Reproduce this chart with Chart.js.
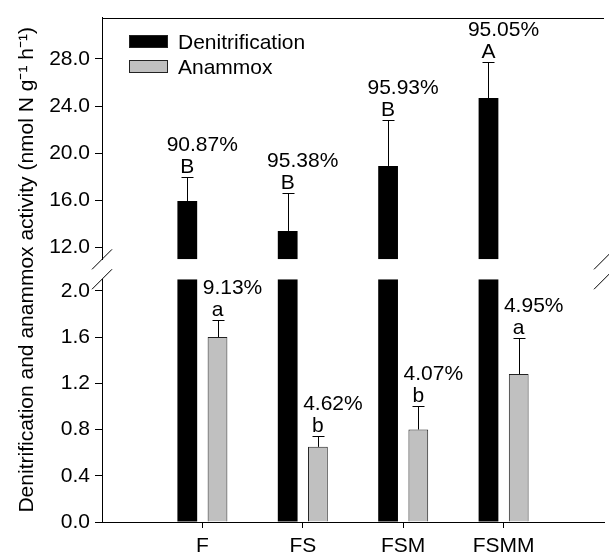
<!DOCTYPE html>
<html>
<head>
<meta charset="utf-8">
<script src="https://cdn.jsdelivr.net/npm/chart.js@4.4.0/dist/chart.umd.min.js"></script>
<style>
  html, body { margin: 0; padding: 0; background: #fff; overflow: hidden; }
  #wrap { width: 609px; height: 553px; overflow: hidden; }
</style>
</head>
<body>
<div id="wrap"><canvas id="chart" width="610" height="553"></canvas></div>
<script>
const categories = ["F", "FS", "FSM", "FSMM"];
const denit_values = [15.95, 13.41, 18.92, 24.68];
const denit_errors = [2.06, 3.22, 3.87, 3.04];
const anammox_values = [1.60, 0.65, 0.80, 1.28];
const anammox_errors = [0.144, 0.098, 0.204, 0.316];
const denit_letters = ["B", "B", "B", "A"];
const anammox_letters = ["a", "b", "b", "a"];
const denit_percent = ["90.87%", "95.38%", "95.93%", "95.05%"];
const anammox_percent = ["9.13%", "4.62%", "4.07%", "4.95%"];
const high_ticks = [12, 16, 20, 24, 28];
const low_ticks = [0, 0.4, 0.8, 1.2, 1.6, 2.0];
const high_range = [11, 31.5];
const low_range = [0, 2.1];

const FONT = '"Liberation Sans", Arial, sans-serif';
Chart.defaults.font.family = FONT;
Chart.defaults.font.size = 21;
Chart.defaults.color = '#000';

// empty slot at each end so the axis sits one category away from F
const x_labels = [""].concat(categories, [""]);
const pad = arr => [null].concat(arr, [null]);

const annotate = {
  id: 'annotate',
  afterDatasetsDraw(chart) {
    const ctx = chart.ctx;
    ctx.save();
    chart.data.datasets.forEach(function(ds, di) {
      if (!ds.errors) return;
      const meta = chart.getDatasetMeta(di);
      const scale = chart.scales[ds.yAxisID];
      meta.data.forEach(function(bar, i) {
        if (ds.data[i] === null) return;
        const x = Math.round(bar.x) + 0.5;
        const yTop = Math.round(scale.getPixelForValue(ds.data[i] + ds.errors[i])) + 0.5;
        ctx.strokeStyle = '#000';
        ctx.lineWidth = 1;
        ctx.beginPath();
        ctx.moveTo(x, bar.y);
        ctx.lineTo(x, yTop);
        ctx.moveTo(x - 6, yTop);
        ctx.lineTo(x + 6, yTop);
        ctx.stroke();
        ctx.fillStyle = '#000';
        ctx.font = '21px ' + FONT;
        ctx.textAlign = 'center';
        ctx.textBaseline = 'alphabetic';
        ctx.fillText(ds.letters[i], bar.x, yTop - 5);
        ctx.fillText(ds.percents[i], bar.x + 15, yTop - 27);
      });
    });
    ctx.restore();
  }
};

const decor = {
  id: 'decor',
  afterDraw(chart) {
    const ctx = chart.ctx;
    const area = chart.chartArea;
    const hi = chart.scales.yHigh;
    const lo = chart.scales.yLow;
    ctx.save();
    ctx.strokeStyle = '#000';
    ctx.lineWidth = 1;
    // top frame line
    ctx.beginPath();
    ctx.moveTo(area.left, Math.round(area.top) + 0.5);
    ctx.lineTo(area.right, Math.round(area.top) + 0.5);
    ctx.stroke();
    // break marks
    [area.left, area.right].forEach(function(x) {
      [hi.bottom, lo.top].forEach(function(y) {
        ctx.beginPath();
        ctx.moveTo(x - 10, y + 10);
        ctx.lineTo(x + 10, y - 10);
        ctx.stroke();
      });
    });
    // legend
    const items = [
      { text: 'Denitrification', fill: '#000', y: 49 },
      { text: 'Anammox', fill: '#c0c0c0', y: 74 }
    ];
    ctx.font = '21px ' + FONT;
    ctx.textAlign = 'left';
    ctx.textBaseline = 'alphabetic';
    items.forEach(function(it) {
      ctx.fillStyle = it.fill;
      ctx.fillRect(129.5, it.y - 13.5, 38, 12);
      ctx.strokeStyle = '#222';
      ctx.strokeRect(129.5, it.y - 13.5, 38, 12);
      ctx.fillStyle = '#000';
      ctx.fillText(it.text, 178, it.y);
    });
    // y axis title
    ctx.translate(32.5, (area.top + area.bottom) / 2);
    ctx.rotate(-Math.PI / 2);
    ctx.textAlign = 'center';
    ctx.fillText('Denitrification and anammox activity (nmol N g\u207B\u00B9 h\u207B\u00B9)', 0, 0);
    ctx.restore();
  }
};

const yGrid = { drawOnChartArea: false, drawTicks: true, tickLength: 7, color: '#000' };
const yBorder = { display: true, color: '#000', width: 1 };

new Chart("chart", {
  type: "bar",
  data: {
    labels: x_labels,
    datasets: [{
      label: "Denitrification",
      data: pad(denit_values),
      errors: pad(denit_errors),
      letters: pad(denit_letters),
      percents: pad(denit_percent),
      yAxisID: 'yHigh',
      stack: 'den',
      base: high_range[0],
      backgroundColor: '#000',
      borderWidth: 0
    }, {
      label: "Anammox",
      data: pad(anammox_values),
      errors: pad(anammox_errors),
      letters: pad(anammox_letters),
      percents: pad(anammox_percent),
      yAxisID: 'yLow',
      stack: 'ana',
      backgroundColor: '#c0c0c0',
      borderColor: '#222',
      borderWidth: 1
    }, {
      label: "Denitrification",
      data: pad(denit_values.map(v => Math.min(v, low_range[1]))),
      yAxisID: 'yLow',
      stack: 'den',
      backgroundColor: '#000',
      borderWidth: 0
    }]
  },
  options: {
    responsive: false,
    animation: false,
    devicePixelRatio: 1,
    layout: { padding: { top: 15, left: 0, right: 0, bottom: 0 } },
    categoryPercentage: 0.602,
    barPercentage: 0.654,
    plugins: { legend: { display: false }, tooltip: { enabled: false } },
    scales: {
      x: {
        type: 'category',
        offset: false,
        grid: {
          offset: false,
          drawOnChartArea: false,
          drawTicks: true,
          tickLength: 6,
          tickColor: ctx => (ctx.index === 0 || ctx.index === x_labels.length - 1) ? 'rgba(0,0,0,0)' : '#000'
        },
        border: { display: true, color: '#000', width: 1 },
        ticks: { padding: 6, autoSkip: false, maxRotation: 0 },
        afterFit: s => { s.height = 31; }
      },
      yLow: {
        type: 'linear',
        position: 'left',
        stack: 'y',
        stackWeight: 244,
        stacked: false,
        min: low_range[0],
        max: low_range[1],
        grid: yGrid,
        border: yBorder,
        ticks: { padding: 5, autoSkip: false, callback: v => Number(v).toFixed(1) },
        afterBuildTicks: s => { s.ticks = low_ticks.map(v => ({ value: v })); },
        afterFit: s => { s.width = 102; }
      },
      yGap: {
        type: 'linear',
        position: 'left',
        stack: 'y',
        stackWeight: 20,
        min: 0,
        max: 1,
        grid: { display: false },
        border: { display: false },
        ticks: { display: false },
        afterFit: s => { s.width = 102; }
      },
      yHigh: {
        type: 'linear',
        position: 'left',
        stack: 'y',
        stackWeight: 243,
        stacked: false,
        min: high_range[0],
        max: high_range[1],
        grid: yGrid,
        border: yBorder,
        ticks: { padding: 5, autoSkip: false, callback: v => Number(v).toFixed(1) },
        afterBuildTicks: s => { s.ticks = high_ticks.map(v => ({ value: v })); },
        afterFit: s => { s.width = 102; }
      }
    }
  },
  plugins: [annotate, decor]
});
</script>
</body>
</html>
